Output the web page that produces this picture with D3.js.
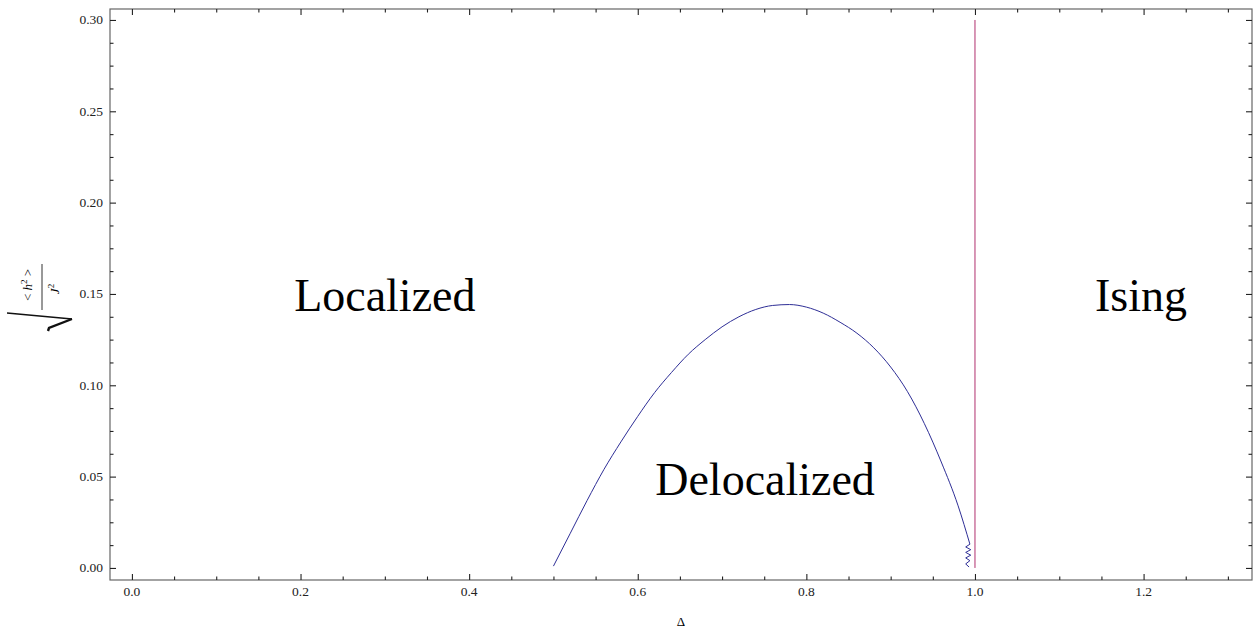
<!DOCTYPE html>
<html>
<head>
<meta charset="utf-8">
<script src="https://cdn.jsdelivr.net/npm/d3@7"></script>
<style>
  body { margin: 0; background: #fff; }
  svg { display: block; font-family: "Liberation Serif", "Times New Roman", serif; }
</style>
</head>
<body>
<svg id="chart" width="1258" height="630"></svg>
<script>
// boundary curve: delta vs sqrt(<h^2>/J^2)
const curveDelta = [0.50, 0.52, 0.54, 0.56, 0.58, 0.60, 0.62, 0.64, 0.66, 0.68, 0.70, 0.72, 0.74,
                    0.76, 0.78, 0.80, 0.82, 0.84, 0.86, 0.88, 0.90, 0.92, 0.94, 0.96, 0.98, 0.994];
const curveH     = [0.001, 0.019, 0.037, 0.054, 0.069, 0.083, 0.096, 0.107, 0.117, 0.125, 0.132, 0.1375, 0.1415,
                    0.1437, 0.1442, 0.1428, 0.1395, 0.1345, 0.1285, 0.1205, 0.110, 0.0965, 0.079, 0.058, 0.034, 0.013];
// numerical jitter at the end of the curve, near delta = 1
const jitterDelta = [0.994, 0.989, 0.995, 0.989, 0.995, 0.989, 0.994, 0.989, 0.993];
const jitterH     = [0.013, 0.0115, 0.0100, 0.0085, 0.0070, 0.0055, 0.0040, 0.0022, 0.0005];
// Ising boundary (vertical line)
const isingDelta = [1.0, 1.0];
const isingH = [0.0, 0.30];

const xTicks = [0.0, 0.2, 0.4, 0.6, 0.8, 1.0, 1.2];
const yTicks = [0.00, 0.05, 0.10, 0.15, 0.20, 0.25, 0.30];

const regionNames = ["Localized", "Delocalized", "Ising"];
const regionDelta = [0.30, 0.751, 1.197];
const regionH = [0.149, 0.048, 0.149];

const svg = d3.select("#chart");
const plotLeft = 110, plotRight = 1252, plotTop = 9, plotBottom = 580;

const x = d3.scaleLinear().domain([-0.026, 1.3286]).range([plotLeft, plotRight]);
const y = d3.scaleLinear().domain([-0.0066, 0.306]).range([plotBottom, plotTop]);

const xMinor = d3.range(0, 1.3001, 0.05).filter(v => !xTicks.some(t => Math.abs(t - v) < 1e-6));
const yMinor = d3.range(0, 0.3001, 0.0125).filter(v => !yTicks.some(t => Math.abs(t - v) < 1e-6));

// frame
svg.append("rect")
    .attr("x", plotLeft).attr("y", plotTop)
    .attr("width", plotRight - plotLeft).attr("height", plotBottom - plotTop)
    .attr("fill", "none")
    .attr("stroke", "#666")
    .attr("stroke-width", 1.2);

// bottom and top ticks (inward)
function drawXTicks(yPos, dir) {
    svg.append("g").attr("transform", `translate(0,${yPos})`)
        .call(d3.axisBottom(x).tickValues(xTicks).tickSize(6 * dir).tickFormat(""))
        .call(s => s.select(".domain").remove());
    svg.append("g").attr("transform", `translate(0,${yPos})`)
        .call(d3.axisBottom(x).tickValues(xMinor).tickSize(3.5 * dir).tickFormat(""))
        .call(s => s.select(".domain").remove());
}
drawXTicks(plotBottom, -1);
drawXTicks(plotTop, 1);

function drawYTicks(xPos, dir) {
    svg.append("g").attr("transform", `translate(${xPos},0)`)
        .call(d3.axisLeft(y).tickValues(yTicks).tickSize(6 * dir).tickFormat(""))
        .call(s => s.select(".domain").remove());
    svg.append("g").attr("transform", `translate(${xPos},0)`)
        .call(d3.axisLeft(y).tickValues(yMinor).tickSize(3.5 * dir).tickFormat(""))
        .call(s => s.select(".domain").remove());
}
drawYTicks(plotLeft, -1);
drawYTicks(plotRight, 1);

svg.selectAll(".tick line").attr("stroke", "#222").attr("stroke-width", 1.1);

// tick labels
svg.append("g").selectAll("text")
    .data(xTicks)
    .enter().append("text")
    .attr("x", d => x(d))
    .attr("y", 596)
    .attr("text-anchor", "middle")
    .attr("font-size", 13.5)
    .attr("fill", "#222")
    .text(d => d.toFixed(1));

svg.append("g").selectAll("text")
    .data(yTicks)
    .enter().append("text")
    .attr("x", 103)
    .attr("y", d => y(d) + 4.5)
    .attr("text-anchor", "end")
    .attr("font-size", 13.5)
    .attr("fill", "#222")
    .text(d => d.toFixed(2));

// axis title
svg.append("text")
    .attr("x", (plotLeft + plotRight) / 2)
    .attr("y", 626)
    .attr("text-anchor", "middle")
    .attr("font-size", 13)
    .text("Δ");

// y label: rotated sqrt(<h^2>/J^2)
const yl = svg.append("g").attr("transform", "translate(40,287) rotate(-90)");
const num = yl.append("text")
    .attr("x", 2).attr("y", -8)
    .attr("text-anchor", "middle")
    .attr("font-size", 13);
num.append("tspan").text("< ");
num.append("tspan").attr("font-style", "italic").text("h");
num.append("tspan").attr("font-size", 9).attr("dy", -5).text("2");
num.append("tspan").attr("dy", 5).text(" >");
yl.append("line")
    .attr("x1", -23).attr("x2", 23)
    .attr("y1", 2).attr("y2", 2)
    .attr("stroke", "#333").attr("stroke-width", 1);
const den = yl.append("text")
    .attr("x", -2).attr("y", 19)
    .attr("text-anchor", "middle")
    .attr("font-size", 13);
den.append("tspan").attr("font-style", "italic").text("J");
den.append("tspan").attr("font-size", 9).attr("dy", -5).text("2");
// radical strokes
svg.append("path")
    .attr("d", "M7,313 L72,319")
    .attr("stroke", "#111").attr("stroke-width", 1.3).attr("fill", "none");
svg.append("path")
    .attr("d", "M72,319 L49,328 L48,331")
    .attr("stroke", "#111").attr("stroke-width", 2.4).attr("fill", "none");

// data lines
const smooth = d3.line().x(d => x(d[0])).y(d => y(d[1])).curve(d3.curveMonotoneX);
const straight = d3.line().x(d => x(d[0])).y(d => y(d[1]));

svg.append("path")
    .datum(curveDelta.map((d, i) => [d, curveH[i]]))
    .attr("d", smooth)
    .attr("fill", "none")
    .attr("stroke", "#2e2e96")
    .attr("stroke-width", 1);

svg.append("path")
    .datum(jitterDelta.map((d, i) => [d, jitterH[i]]))
    .attr("d", straight)
    .attr("fill", "none")
    .attr("stroke", "#2e2e96")
    .attr("stroke-width", 1);

svg.append("path")
    .datum(isingDelta.map((d, i) => [d, isingH[i]]))
    .attr("d", straight)
    .attr("fill", "none")
    .attr("stroke", "#b0306e")
    .attr("stroke-width", 1);

// region labels
svg.append("g").selectAll("text")
    .data(regionNames)
    .enter().append("text")
    .attr("x", (d, i) => x(regionDelta[i]))
    .attr("y", (d, i) => y(regionH[i]) + 15)
    .attr("text-anchor", "middle")
    .attr("font-size", 46)
    .text(d => d);
</script>
</body>
</html>
